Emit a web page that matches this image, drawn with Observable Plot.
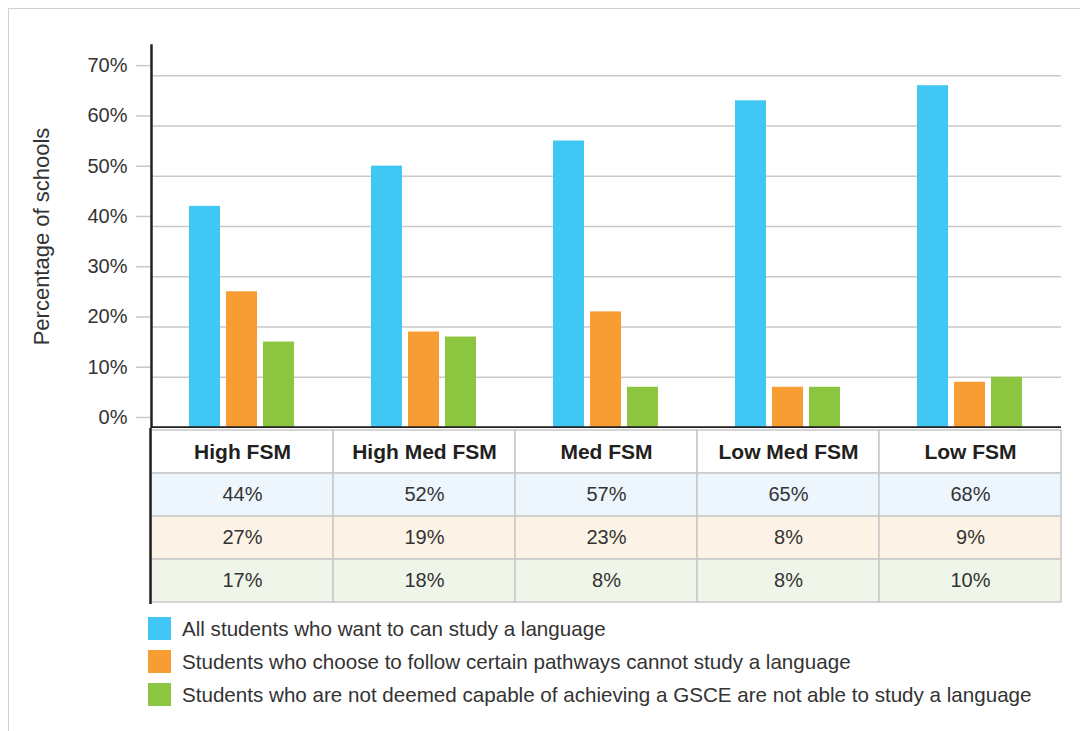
<!DOCTYPE html>
<html><head><meta charset="utf-8">
<script src="https://cdn.jsdelivr.net/npm/d3@7"></script>
<script src="https://cdn.jsdelivr.net/npm/@observablehq/plot@0.6"></script>
<style>
body{margin:0;background:#fff;font-family:"Liberation Sans",Arial,sans-serif;}
#frame{position:absolute;left:8px;top:8px;width:1100px;height:800px;border-top:1.5px solid #d2d2d2;border-left:1.5px solid #d2d2d2;}
#wrap{position:absolute;left:0;top:0;width:1080px;}
svg{display:block}
#legend{margin-left:148px;margin-top:8px;}
.item{display:flex;align-items:center;height:33px;font-size:20.6px;color:#333;}
.sw{width:23px;height:23px;margin-right:11px;flex:none}
</style></head>
<body><div id="frame"></div><div id="wrap"><div id="chart"></div><div id="table"></div><div id="legend"></div></div>
<script>
const categories = ["High FSM","High Med FSM","Med FSM","Low Med FSM","Low FSM"];
const seriesKeys = ["all","pathways","capable"];
const seriesNames = [
  "All students who want to can study a language",
  "Students who choose to follow certain pathways cannot study a language",
  "Students who are not deemed capable of achieving a GSCE are not able to study a language"
];
const allStudents = [44,52,57,65,68];
const pathways = [27,19,23,8,9];
const notCapable = [17,18,8,8,10];
const seriesColors = ["#40c7f3","#f79d33","#8cc640"];
const rowFills = ["#edf6fd","#fcf3e6","#eff5e8"];
const yTicks = [0,10,20,30,40,50,60,70];
const yLabel = "Percentage of schools";

const values = [allStudents, pathways, notCapable];
const bars = categories.flatMap((c,i)=> seriesKeys.map((k,j)=>({category:c, series:k, value: values[j][i]})));
const font = "'Liberation Sans', Arial, sans-serif";

const chart = Plot.plot({
  width:1080, height:428, marginLeft:150, marginRight:19, marginTop:45, marginBottom:1,
  style:{fontFamily:font, background:"transparent"},
  fx:{domain:categories, padding:0, axis:null},
  x:{domain:seriesKeys, paddingInner:0.16, paddingOuter:1.0, axis:null},
  y:{domain:[0,76]},
  color:{domain:seriesKeys, range:seriesColors},
  marks:[
    Plot.gridY(yTicks, {stroke:"#c9c9c9", strokeOpacity:1, strokeWidth:1.5}),
    Plot.axisY(yTicks, {tickSize:15, tickPadding:9, stroke:"#c9c9c9", strokeWidth:1.5, fill:"#333", fontSize:20, tickFormat:d=>d+"%", dy:-10, label:null}),
    Plot.axisY([], {label:yLabel, labelAnchor:"center", labelArrow:"none", labelOffset:118, fontSize:22, fill:"#333", tickSize:0, dy:5}),
    Plot.barY(bars, {fx:"category", x:"series", y:"value", fill:"series"}),
    Plot.ruleY([0], {stroke:"#231f20", strokeWidth:2.5}),
    Plot.frame({anchor:"left", facetAnchor:"left", stroke:"#231f20", strokeWidth:2.5})
  ]
});
document.getElementById("chart").append(chart);

const rowKeys = ["header", ...seriesKeys];
const tableCells = categories.flatMap((c,i)=> rowKeys.map((r,j)=>({
  category:c, row:r, fill: j===0 ? "#ffffff" : rowFills[j-1],
  label: j===0 ? c : values[j-1][i] + "%"
})));
const table = Plot.plot({
  width:1080, height:176, marginLeft:150, marginRight:19, marginTop:0, marginBottom:1,
  style:{fontFamily:font, background:"transparent"},
  x:{domain:categories, padding:0, axis:null},
  y:{domain:rowKeys, padding:0, axis:null},
  marks:[
    Plot.cell(tableCells, {x:"category", y:"row", fill:"fill", stroke:"#c8c8c8", strokeWidth:1.5}),
    Plot.text(tableCells.filter(d=>d.row==="header"), {x:"category", y:"row", text:"label", fontWeight:"bold", fontSize:21, fill:"#231f20"}),
    Plot.text(tableCells.filter(d=>d.row!=="header"), {x:"category", y:"row", text:"label", fontSize:20, fill:"#333"}),
    Plot.frame({anchor:"left", stroke:"#231f20", strokeWidth:2.5})
  ]
});
document.getElementById("table").append(table);

const legend = document.getElementById("legend");
seriesNames.forEach((n,i)=>{
  const it = document.createElement("div"); it.className="item";
  const sw = document.createElement("div"); sw.className="sw"; sw.style.background = seriesColors[i];
  const tx = document.createElement("span"); tx.textContent = n;
  it.append(sw, tx); legend.append(it);
});
</script></body></html>
